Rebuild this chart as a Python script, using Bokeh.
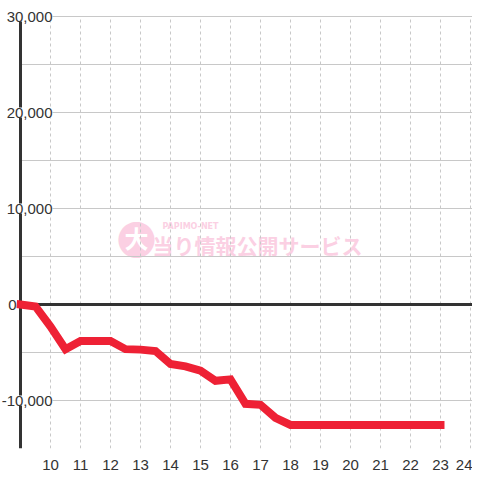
from bokeh.plotting import figure
from bokeh.models import Range1d, FixedTicker, Label, Grid
from bokeh.embed import file_html
from bokeh.resources import INLINE

# ---- data ----
hours = [9.0, 9.5, 10.0, 10.5, 11.0, 11.5, 12.0, 12.5, 13.0, 13.5, 14.0, 14.5,
         15.0, 15.5, 16.0, 16.5, 17.0, 17.5, 18.0, 18.5, 19.0, 19.5, 20.0,
         20.5, 21.0, 21.5, 22.0, 22.5, 23.0]
balance = [0, -200, -2300, -4650, -3800, -3800, -3800, -4650, -4700, -4850,
           -6200, -6450, -6900, -7950, -7800, -10350, -10450, -11800, -12550,
           -12550, -12550, -12550, -12550, -12550, -12550, -12550, -12550,
           -12550, -12550]
x_ticks = list(range(10, 25))
y_grid_ticks = list(range(-15000, 30001, 5000))
y_label_values = [30000, 20000, 10000, 0, -10000]
y_label_texts = ["30,000", "20,000", "10,000", "0", "-10,000"]

X_START = 8.3333
X_END = 24.0667
Y_START = -15000
Y_END = 31667
AXIS_X = 9.0

FONT = "Liberation Sans"
TXT = "#333333"
GRID = "#c8c8c8"

p = figure(width=472, height=472, output_backend="svg", toolbar_location=None,
           x_range=Range1d(X_START, X_END), y_range=Range1d(Y_START, Y_END),
           y_axis_location=None, min_border_left=0, min_border_right=0,
           min_border_top=0, min_border_bottom=24)
p.outline_line_color = None
p.background_fill_color = "white"
p.border_fill_color = "white"

# grids
p.xgrid.ticker = FixedTicker(ticks=x_ticks)
p.xgrid.grid_line_color = GRID
p.xgrid.grid_line_dash = "3 3"
p.xgrid.grid_line_width = 1
p.xgrid.cross_bounds = (Y_START, y_grid_ticks[-1])
p.ygrid.ticker = FixedTicker(ticks=y_grid_ticks)
p.ygrid.grid_line_color = GRID
p.ygrid.grid_line_width = 1
p.ygrid.cross_bounds = (AXIS_X, X_END)

# zero line and left axis line
p.add_layout(Grid(dimension=1, ticker=FixedTicker(ticks=[0]), cross_bounds=(AXIS_X, X_END),
                  grid_line_color=TXT, grid_line_width=3))
p.add_layout(Grid(dimension=0, ticker=FixedTicker(ticks=[AXIS_X]),
                  cross_bounds=(Y_START, y_grid_ticks[-1]),
                  grid_line_color=TXT, grid_line_width=3))

# x axis
p.xaxis.ticker = FixedTicker(ticks=x_ticks)
p.xaxis.axis_line_color = None
p.xaxis.major_tick_line_color = None
p.xaxis.minor_tick_line_color = None
p.xaxis.major_label_text_font = FONT
p.xaxis.major_label_text_font_size = "15px"
p.xaxis.major_label_text_color = TXT
p.xaxis.major_label_standoff = 5

# watermark
wm_circle = Label(x=12.867, y=6979, text="●", text_font="Noto Sans CJK JP",
                  text_font_size="40px", text_color="#fbd0e3", text_align="center",
                  text_baseline="middle", level="image")
wm_big = Label(x=12.867, y=6979, text="大", text_font="Noto Sans CJK JP",
               text_font_style="bold", text_font_size="24px", text_color="white",
               text_align="center", text_baseline="middle", level="image")
wm_small = Label(x=13.733, y=8125, text="PAPIMO-NET", text_font="DejaVu Sans",
                 text_font_style="bold", text_font_size="8px", text_color="#fbd0e3",
                 text_align="left", text_baseline="middle", level="image")
wm_main = Label(x=13.4, y=6146, text="当り情報公開サービス", text_font="Noto Sans CJK JP",
                text_font_style="bold", text_font_size="21px", text_color="#fbd0e3",
                text_align="left", text_baseline="middle", level="image")
for w in (wm_circle, wm_big, wm_small, wm_main):
    p.add_layout(w)

# data line
p.line(hours, balance, line_color="#ee2135", line_width=8,
       line_cap="square", line_join="miter")

# y labels with white background (right edges in data x)
LABEL_RIGHT = 10.067
ZERO_LABEL_RIGHT = 8.867
for val, txt in zip(y_label_values, y_label_texts):
    p.add_layout(Label(x=ZERO_LABEL_RIGHT if val == 0 else LABEL_RIGHT, y=val, text=txt,
                       text_font=FONT, text_font_size="15px", text_color=TXT,
                       text_align="right", text_baseline="middle",
                       background_fill_color="white"))

open("out.html", "w").write(file_html(p, INLINE))
